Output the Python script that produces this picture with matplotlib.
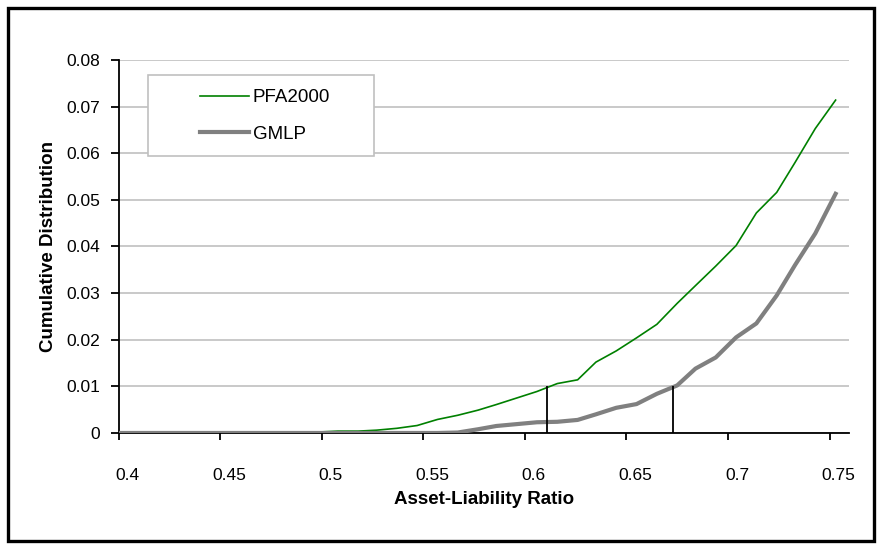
import matplotlib
matplotlib.use("Agg")
import matplotlib.pyplot as plt
from matplotlib.patches import Rectangle
from matplotlib.transforms import ScaledTranslation

plt.rcParams['font.family'] = ['Liberation Sans Narrow', 'Liberation Sans', 'DejaVu Sans']

# asset-liability ratio grid
ratio = [0.400, 0.410, 0.420, 0.429, 0.439, 0.449, 0.459, 0.469, 0.478, 0.488,
         0.498, 0.508, 0.518, 0.527, 0.537, 0.547, 0.557, 0.567, 0.577, 0.586,
         0.596, 0.606, 0.616, 0.626, 0.635, 0.645, 0.655, 0.665, 0.675, 0.684,
         0.694, 0.704, 0.714, 0.724, 0.733, 0.743, 0.753]

pfa2000 = [0, 0, 0, 0, 0, 0, 0, 0, 0, 0,
           0.0002, 0.0004, 0.0004, 0.0006, 0.0010, 0.0016, 0.0029, 0.0038, 0.0049, 0.0061,
           0.0075, 0.0089, 0.0106, 0.0114, 0.0152, 0.0176, 0.0204, 0.0233, 0.0278, 0.0316,
           0.0358, 0.0402, 0.0472, 0.0516, 0.0580, 0.0653, 0.0714]

gmlp = [0, 0, 0, 0, 0, 0, 0, 0, 0, 0,
        0, 0, 0, 0, 0, 0, 0, 0.0001, 0.0008, 0.0015,
        0.0019, 0.0023, 0.0024, 0.0028, 0.0040, 0.0054, 0.0062, 0.0084, 0.0102, 0.0138,
        0.0162, 0.0205, 0.0235, 0.0295, 0.0360, 0.0428, 0.0513]

# 1% marker lines
var_x = [0.611, 0.673]
var_level = 0.01

xticks = [0.4, 0.45, 0.5, 0.55, 0.6, 0.65, 0.7, 0.75]
xtick_labels = ["0.4", "0.45", "0.5", "0.55", "0.6", "0.65", "0.7", "0.75"]
yticks = [0, 0.01, 0.02, 0.03, 0.04, 0.05, 0.06, 0.07, 0.08]
ytick_labels = ["0", "0.01", "0.02", "0.03", "0.04", "0.05", "0.06", "0.07", "0.08"]

fig = plt.figure(figsize=(8.82, 5.46), dpi=100)
ax = fig.add_axes([0.1344, 0.2070, 0.8282, 0.6831])

ax.plot(ratio, pfa2000, color="#008000", lw=1.2, label="PFA2000", zorder=4)
ax.plot(ratio, gmlp, color="#808080", lw=3.0, label="GMLP", zorder=4)
ax.vlines(var_x, 0, var_level, color="black", lw=1.3, zorder=5)

ax.set_xlim(0.4, 0.7596)
ax.set_ylim(0, 0.08)
ax.set_xticks(xticks)
ax.set_xticklabels(xtick_labels)
ax.set_yticks(yticks)
ax.set_yticklabels(ytick_labels)
ax.yaxis.grid(True, color="#c0c0c0", lw=1.2)
ax.set_axisbelow(True)

for side in ["top", "right"]:
    ax.spines[side].set_visible(False)
for side in ["left", "bottom"]:
    ax.spines[side].set_linewidth(1.3)
ax.tick_params(axis="x", direction="out", length=5, width=1.3, pad=20, labelsize=12.5)
ax.tick_params(axis="y", direction="out", length=6, width=1.3, pad=7, labelsize=12.5)
for lbl in ax.get_xticklabels():
    lbl.set_transform(lbl.get_transform() + ScaledTranslation(0.09, 0, fig.dpi_scale_trans))

ax.set_xlabel("Asset-Liability Ratio", fontsize=13.5, fontweight="bold", labelpad=6)
ax.set_ylabel("Cumulative Distribution", fontsize=13.5, fontweight="bold", labelpad=7)

# legend box drawn by hand so the entries can sit inside it like Excel's
ax.add_patch(Rectangle((0.0404, 0.7426), 0.3094, 0.2172, transform=ax.transAxes,
                       facecolor="white", edgecolor="#c0c0c0", lw=1.2, zorder=6))
leg = ax.legend(loc="upper left", bbox_to_anchor=(0.1116, 0.922), frameon=False,
                borderpad=0, borderaxespad=0, handlelength=2.6, handletextpad=0.2,
                labelspacing=1.05, fontsize=13.5)
leg.set_zorder(7)

# outer chart frame
fig.patches.append(Rectangle((0.0095, 0.0095), 0.981, 0.975, transform=fig.transFigure,
                             fill=False, edgecolor="black", lw=2.4))

fig.savefig("out.png", dpi=100)
